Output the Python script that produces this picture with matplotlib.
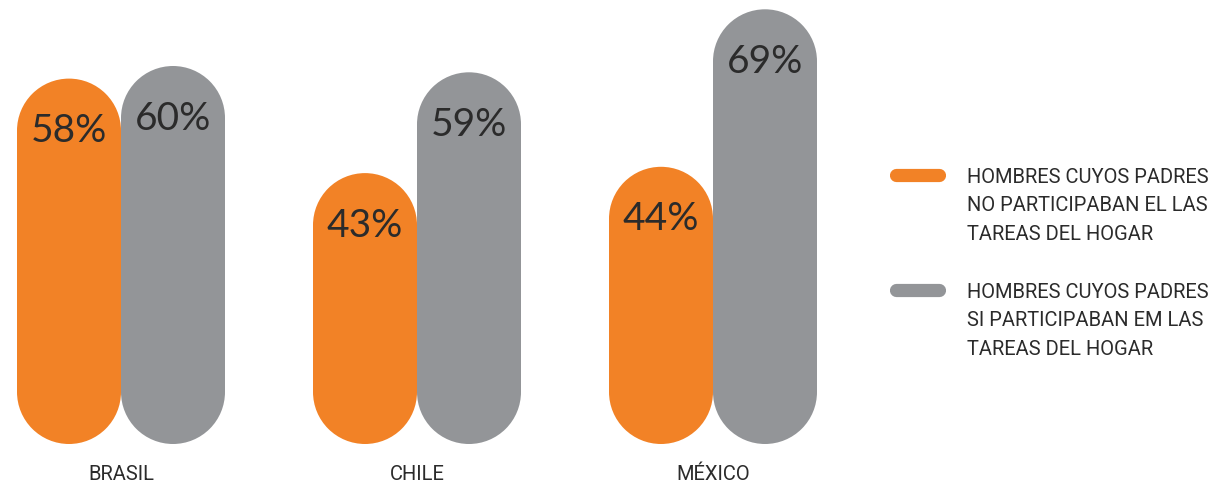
import matplotlib.pyplot as plt
from matplotlib.patches import Ellipse

# datos
paises = ['BRASIL', 'CHILE', 'MÉXICO']
no_participaban = [58, 43, 44]
si_participaban = [60, 59, 69]
leyenda = ['HOMBRES CUYOS PADRES\nNO PARTICIPABAN EL LAS\nTAREAS DEL HOGAR',
           'HOMBRES CUYOS PADRES\nSI PARTICIPABAN EM LAS\nTAREAS DEL HOGAR']

naranja = '#f28226'
gris = '#939598'
texto = '#2b2b2b'
plt.rcParams['font.family'] = ['Lato', 'DejaVu Sans']
fuente_leyenda = ['Roboto', 'DejaVu Sans']

px_por_pct = 6.3          # escala vertical (pixeles por punto porcentual)
ancho = 104               # ancho de cada barra en pixeles
ry = ancho / 2 / px_por_pct  # radio de las puntas en unidades de %

fig = plt.figure(figsize=(12.1, 4.9), dpi=100)
ax = fig.add_axes([0, 0, 1, 1])
ax.set_xlim(0, 1210)
ax.set_ylim(-(490 - 444) / px_por_pct, 444 / px_por_pct)
ax.axis('off')


def capsula(x, valor, color):
    # barra con los dos extremos redondeados, de 0 a valor
    ax.bar(x, valor - 2 * ry, bottom=ry, width=ancho, color=color, linewidth=0)
    for yc in (ry, valor - ry):
        ax.add_patch(Ellipse((x, yc), ancho, 2 * ry, color=color, linewidth=0))
    ax.text(x, valor - ry - 0.1, f'{valor}%', ha='center', va='center',
            fontsize=28, color=texto)


centros = [121 + 296 * i for i in range(len(paises))]
for c, pais, a, b in zip(centros, paises, no_participaban, si_participaban):
    capsula(c - ancho / 2, a, naranja)
    capsula(c + ancho / 2, b, gris)
    ax.text(c, -30 / px_por_pct, pais, ha='center', va='center',
            fontsize=14.5, color=texto, family=fuente_leyenda)

# leyenda
for i, (etiqueta, color) in enumerate(zip(leyenda, [naranja, gris])):
    y = (444 - 175 - 115 * i) / px_por_pct
    ax.plot([896, 939], [y, y], color=color, linewidth=9.5,
            solid_capstyle='round')
    ax.text(967, y + 7 / px_por_pct, etiqueta, ha='left', va='top',
            fontsize=14.5, color=texto, linespacing=1.62, family=fuente_leyenda)

plt.savefig('out.png', dpi=100)
